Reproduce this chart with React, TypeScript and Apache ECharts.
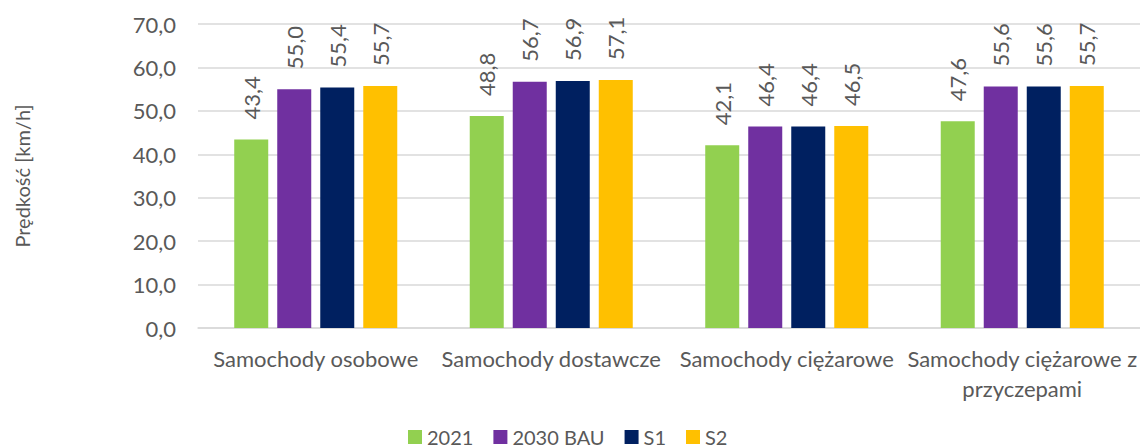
import React, { useEffect, useRef } from "react";
import * as echarts from "echarts";

const categories = [
  "Samochody osobowe",
  "Samochody dostawcze",
  "Samochody ciężarowe",
  "Samochody ciężarowe z\nprzyczepami",
];
const seriesNames = ["2021", "2030 BAU", "S1", "S2"];
const values2021 = [43.4, 48.8, 42.1, 47.6];
const values2030BAU = [55.0, 56.7, 46.4, 55.6];
const valuesS1 = [55.4, 56.9, 46.4, 55.6];
const valuesS2 = [55.7, 57.1, 46.5, 55.7];
const colors = ["#92D050", "#7030A0", "#002060", "#FFC000"];
const yTicks = { min: 0, max: 70, interval: 10 };
const yAxisName = "Prędkość [km/h]";

const FONT = "Lato";
const TEXT = "#595959";

const fmt = (v: number) => v.toFixed(1).replace(".", ",");

export default function App() {
  const ref = useRef<HTMLDivElement>(null);
  useEffect(() => {
    document.body.style.margin = "0";
    const chart = echarts.init(ref.current!, null, { renderer: "svg" });
    const data = [values2021, values2030BAU, valuesS1, valuesS2];
    chart.setOption({
      animation: false,
      textStyle: { fontFamily: FONT },
      legend: {
        data: seriesNames,
        left: 408,
        top: 427,
        padding: 0,
        itemWidth: 14,
        itemHeight: 14,
        itemGap: 20,
        icon: "rect",
        textStyle: { fontFamily: FONT, fontSize: 20, lineHeight: 20, color: TEXT },
      },
      grid: { left: 198, right: -4, top: 24, bottom: 120, containLabel: false },
      xAxis: {
        type: "category",
        data: categories,
        axisLine: { lineStyle: { color: "#D9D9D9", width: 1.5 } },
        axisTick: { show: false },
        axisLabel: {
          fontFamily: FONT,
          fontSize: 22,
          color: TEXT,
          margin: 15,
          lineHeight: 30,
          interval: 0,
        },
      },
      yAxis: {
        type: "value",
        min: yTicks.min,
        max: yTicks.max,
        interval: yTicks.interval,
        name: yAxisName,
        nameLocation: "middle",
        nameGap: 166,
        nameTextStyle: { fontFamily: FONT, fontSize: 20, color: TEXT },
        axisLine: { show: false },
        axisTick: { show: false },
        splitLine: { lineStyle: { color: "#D9D9D9", width: 1.5 } },
        axisLabel: {
          fontFamily: FONT,
          fontSize: 22,
          color: TEXT,
          margin: 22,
          formatter: (v: number) => fmt(v),
        },
      },
      series: seriesNames.map((name, i) => ({
        name,
        type: "bar",
        data: data[i],
        barWidth: 34,
        barGap: "26.5%",
        itemStyle: { color: colors[i] },
        label: {
          show: true,
          position: "top",
          rotate: 90,
          align: "left",
          verticalAlign: "middle",
          distance: 20,
          fontFamily: FONT,
          fontSize: 22,
          color: TEXT,
          formatter: (p: any) => fmt(p.value),
        },
      })),
    });
    return () => chart.dispose();
  }, []);
  return <div ref={ref} style={{ width: 1140, height: 448 }} />;
}
